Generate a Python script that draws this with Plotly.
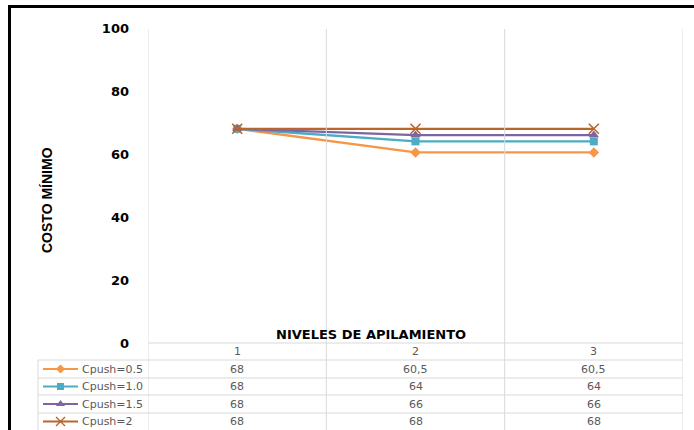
import plotly.graph_objects as go

# Series data: minimum cost by stacking level
levels = [1, 2, 3]
level_labels = ["1", "2", "3"]
series_names = ["Cpush=0.5", "Cpush=1.0", "Cpush=1.5", "Cpush=2"]
cpush_05 = [68, 60.5, 60.5]
cpush_10 = [68, 64, 64]
cpush_15 = [68, 66, 66]
cpush_20 = [68, 68, 68]
y_ticks = [0, 20, 40, 60, 80, 100]

series_values = [cpush_05, cpush_10, cpush_15, cpush_20]
colors = ["#F79646", "#4BACC6", "#8064A2", "#B9652B"]
symbols = ["diamond", "square", "triangle-up", "x-thin"]
msizes = [8, 8, 9, 10]

W, H = 694, 430
px = lambda v: v / W           # pixel -> paper x
py = lambda v: (H - v) / H     # pixel -> paper y

plot_left, plot_right, plot_top, plot_bottom = 148, 683, 28, 343

fig = go.Figure()

for name, vals, col, sym, ms in zip(series_names, series_values, colors, symbols, msizes):
    marker = dict(symbol=sym, size=ms, color=col)
    if sym == "x-thin":
        marker["line"] = dict(color=col, width=1.6)
    fig.add_trace(go.Scatter(
        x=levels, y=vals, name=name, mode="lines+markers",
        line=dict(color=col, width=2.3), marker=marker,
        showlegend=False, hoverinfo="skip", cliponaxis=False,
    ))

# Data-table rows
row_lines = [343, 360, 378, 395, 413, 430]
row_centers = [(row_lines[i] + row_lines[i + 1]) / 2 for i in range(len(row_lines) - 1)]
table_font = dict(family="DejaVu Sans", size=11, color="#595959")

annotations = []
for lv, lab in zip(levels, level_labels):
    annotations.append(dict(x=lv, y=py(row_centers[0]), xref="x", yref="paper",
                            text=lab, showarrow=False, xanchor="center", yanchor="middle",
                            font=table_font))


def fmt(v):
    s = f"{v:g}"
    return s.replace(".", ",")


for i, (name, vals, col, sym, ms) in enumerate(zip(series_names, series_values, colors, symbols, msizes)):
    yc = row_centers[i + 1]
    for lv, v in zip(levels, vals):
        annotations.append(dict(x=lv, y=py(yc), xref="x", yref="paper",
                                text=fmt(v), showarrow=False,
                                xanchor="center", yanchor="middle", font=table_font))
    annotations.append(dict(x=px(80), y=py(yc), xref="paper", yref="paper",
                            text=name, showarrow=False, xanchor="left", yanchor="middle",
                            font=table_font))
    # legend key inside the table
    fig.add_trace(go.Scatter(x=[43, 78], y=[yc, yc], mode="lines", xaxis="x2", yaxis="y2",
                             line=dict(color=col, width=2), showlegend=False, hoverinfo="skip"))
    mk = dict(symbol=sym, size=ms - 1, color=col)
    if sym == "x-thin":
        mk["line"] = dict(color=col, width=1.4)
    fig.add_trace(go.Scatter(x=[60.5], y=[yc], mode="markers", xaxis="x2", yaxis="y2",
                             marker=mk, showlegend=False, hoverinfo="skip"))

# Axis titles
annotations.append(dict(x=px(371), y=py(334), xref="paper", yref="paper",
                        text="<b>NIVELES DE APILAMIENTO</b>", showarrow=False,
                        xanchor="center", yanchor="middle",
                        font=dict(family="DejaVu Sans", size=13, color="black")))
annotations.append(dict(x=px(47), y=py(200), xref="paper", yref="paper",
                        text="<b>COSTO MÍNIMO</b>", showarrow=False, textangle=-90,
                        xanchor="center", yanchor="middle",
                        font=dict(family="Liberation Sans Narrow, Liberation Sans", size=14, color="black")))

shapes = []
grid_col = "#D9D9D9"
# vertical gridlines at category boundaries, running through the table
for xb in [0.5, 1.5, 2.5, 3.5]:
    shapes.append(dict(type="line", xref="x", yref="paper", x0=xb, x1=xb,
                       y0=py(29), y1=py(430), line=dict(color=grid_col, width=1)))
# table horizontal rules
shapes.append(dict(type="line", xref="paper", yref="paper", x0=px(plot_left), x1=px(plot_right),
                   y0=py(343), y1=py(343), line=dict(color=grid_col, width=1)))
for yl in row_lines[1:-1]:
    shapes.append(dict(type="line", xref="paper", yref="paper", x0=px(38), x1=px(plot_right),
                       y0=py(yl), y1=py(yl), line=dict(color=grid_col, width=1)))
shapes.append(dict(type="line", xref="paper", yref="paper", x0=px(38), x1=px(38),
                   y0=py(360), y1=py(430), line=dict(color=grid_col, width=1)))
# outer frame
shapes.append(dict(type="line", xref="paper", yref="paper", x0=px(9.5), x1=px(9.5),
                   y0=py(5), y1=py(432), line=dict(color="black", width=3)))
shapes.append(dict(type="line", xref="paper", yref="paper", x0=px(8), x1=1.0,
                   y0=py(6.5), y1=py(6.5), line=dict(color="black", width=3)))

fig.update_layout(
    width=W, height=H, autosize=False,
    margin=dict(l=0, r=0, t=0, b=0, pad=0),
    paper_bgcolor="white", plot_bgcolor="white",
    xaxis=dict(domain=[px(plot_left), px(plot_right)], range=[0.5, 3.5],
               showgrid=False, zeroline=False, showticklabels=False, showline=False,
               automargin=False, fixedrange=True),
    yaxis=dict(domain=[py(plot_bottom), py(plot_top)], range=[0, 100],
               tickvals=y_ticks, ticktext=[f"<b>{t}</b>" for t in y_ticks],
               showgrid=False, zeroline=False, showline=False, ticks="",
               ticklabelstandoff=18, automargin=False,
               tickfont=dict(family="DejaVu Sans", size=13, color="black"),
               fixedrange=True),
    xaxis2=dict(domain=[px(38), px(148)], range=[38, 148], visible=False, anchor="y2",
                automargin=False),
    yaxis2=dict(domain=[0, py(360)], range=[430, 360], visible=False, anchor="x2",
                automargin=False),
    annotations=annotations,
    shapes=shapes,
)

fig.write_html("out.html")
